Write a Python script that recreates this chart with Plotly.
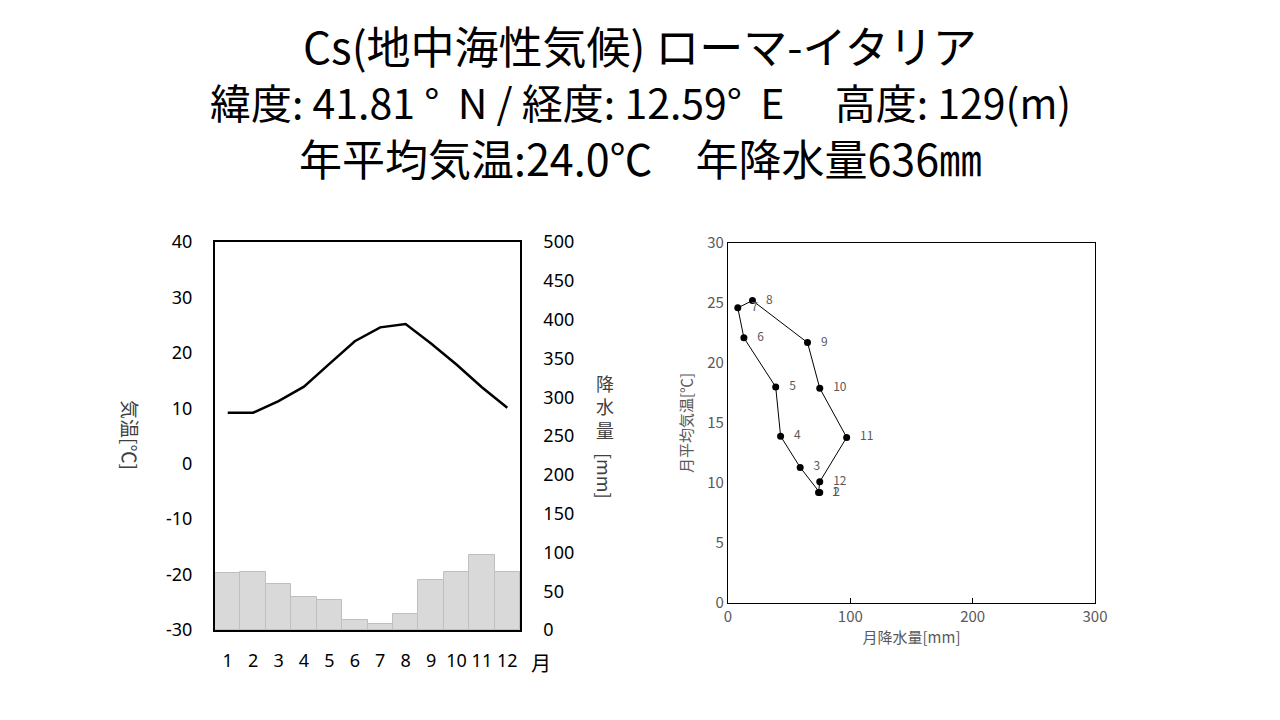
import plotly.graph_objects as go

months = list(range(1, 13))
temps = [9.2, 9.2, 11.3, 13.9, 18.0, 22.1, 24.6, 25.2, 21.7, 17.9, 13.8, 10.1]
precip = [74, 75, 59, 43, 39, 13, 8, 20, 65, 75, 97, 75]
temp_ticks = [-30, -20, -10, 0, 10, 20, 30, 40]

title1 = "Cs(地中海性気候) ローマ-イタリア"
title2 = "緯度: 41.81 °  N / 経度: 12.59°  E　 高度: 129(m)"
title3 = "年平均気温:24.0℃　年降水量636㎜"

jp = "Noto Sans CJK JP"
gray = "#595959"
W, H, OFF = 1280, 720, 8  # page puts the plot 8px in from the corner


def px(x):
    return (x - OFF) / W


def py(y):
    return 1 - (y - OFF) / H


fig = go.Figure()

# left: climograph (bars on base axis so the line overlays them)
fig.add_trace(go.Bar(
    x=months, y=precip, xaxis="x", yaxis="y",
    marker=dict(color="#d9d9d9", line=dict(color="#bfbfbf", width=1)),
    showlegend=False,
))
fig.add_trace(go.Scatter(
    x=months, y=temps, xaxis="x", yaxis="y2", mode="lines",
    line=dict(color="black", width=2.5), showlegend=False,
))

# right: hythergraph
fig.add_trace(go.Scatter(
    x=precip + precip[:1], y=temps + temps[:1], xaxis="x3", yaxis="y3",
    mode="lines", line=dict(color="black", width=1), showlegend=False,
))
fig.add_trace(go.Scatter(
    x=precip, y=temps, xaxis="x3", yaxis="y3", mode="markers+text",
    marker=dict(color="black", size=7),
    text=["   " + str(m) for m in months], textposition="middle right",
    textfont=dict(family=jp, size=12, color=gray), showlegend=False,
))

tickfont = dict(family="Noto Sans", size=18, color="black")
fig.update_layout(
    width=W, height=H,
    margin=dict(l=0, r=0, t=0, b=0),
    paper_bgcolor="white", plot_bgcolor="white",
    bargap=0,
    xaxis=dict(domain=[px(215), px(520)], range=[0.5, 12.5],
               tickvals=months, tickfont=tickfont, showgrid=False,
               showline=True, mirror=True, linecolor="black", linewidth=1.5,
               ticks="outside", ticklen=14, tickcolor="rgba(0,0,0,0)",
               layer="below traces", anchor="y", automargin=False),
    yaxis=dict(domain=[py(630), py(242)], range=[0, 500], dtick=50,
               side="right", tickfont=tickfont, showgrid=False, zeroline=False,
               showline=True, mirror=True, linecolor="black", linewidth=1.5,
               ticks="outside", ticklen=18, tickcolor="rgba(0,0,0,0)",
               layer="below traces", anchor="x", automargin=False),
    yaxis2=dict(overlaying="y", side="left", range=[-30, 40],
                tickvals=temp_ticks, ticktext=[str(v) for v in temp_ticks],
                tickfont=tickfont, showgrid=False, zeroline=False,
                ticks="outside", ticklen=18, tickcolor="rgba(0,0,0,0)",
                anchor="x", automargin=False),
    xaxis3=dict(domain=[px(728), px(1095)], range=[0, 300], dtick=100,
                tickfont=dict(family=jp, size=15, color=gray), showgrid=False,
                zeroline=False, showline=True, mirror=True, linecolor="black",
                linewidth=1.2, ticks="inside", ticklen=5, tickcolor="black",
                title=dict(text="月降水量[mm]", font=dict(family=jp, size=15, color=gray),
                           standoff=6),
                anchor="y3", automargin=False),
    yaxis3=dict(domain=[py(603), py(243)], range=[0, 30], dtick=5,
                tickfont=dict(family=jp, size=15, color=gray), showgrid=False,
                zeroline=False, showline=True, mirror=True, linecolor="black",
                linewidth=1.2, ticks="inside", ticklen=0,
                title=dict(text="月平均気温[℃]", font=dict(family=jp, size=15, color=gray),
                           standoff=10),
                anchor="x3", automargin=False),
)

ann = [
    dict(text=title1, y=45, size=44),
    dict(text=title2, y=101, size=41),
    dict(text=title3, y=157, size=43),
]
for a in ann:
    fig.add_annotation(text=a["text"], xref="paper", yref="paper",
                       x=px(640), y=py(a["y"]), yanchor="middle", showarrow=False,
                       font=dict(family=jp, size=a["size"], color="black"))

fig.add_annotation(text="気温[℃]", xref="paper", yref="paper",
                   x=px(131), y=py(435), textangle=90, showarrow=False,
                   xanchor="center", yanchor="middle",
                   font=dict(family=jp, size=19, color="#404040"))
fig.add_annotation(text="降<br>水<br>量", xref="paper", yref="paper",
                   x=px(605), y=py(406), showarrow=False,
                   xanchor="center", yanchor="middle",
                   font=dict(family=jp, size=18, color="#404040"))
fig.add_annotation(text="[mm]", xref="paper", yref="paper",
                   x=px(605), y=py(476), textangle=90, showarrow=False,
                   xanchor="center", yanchor="middle",
                   font=dict(family=jp, size=18, color="#404040"))
fig.add_annotation(text="月", xref="paper", yref="paper",
                   x=px(541), y=py(662), showarrow=False,
                   xanchor="center", yanchor="middle",
                   font=dict(family=jp, size=20, color="black"))

fig.write_html("out.html")
